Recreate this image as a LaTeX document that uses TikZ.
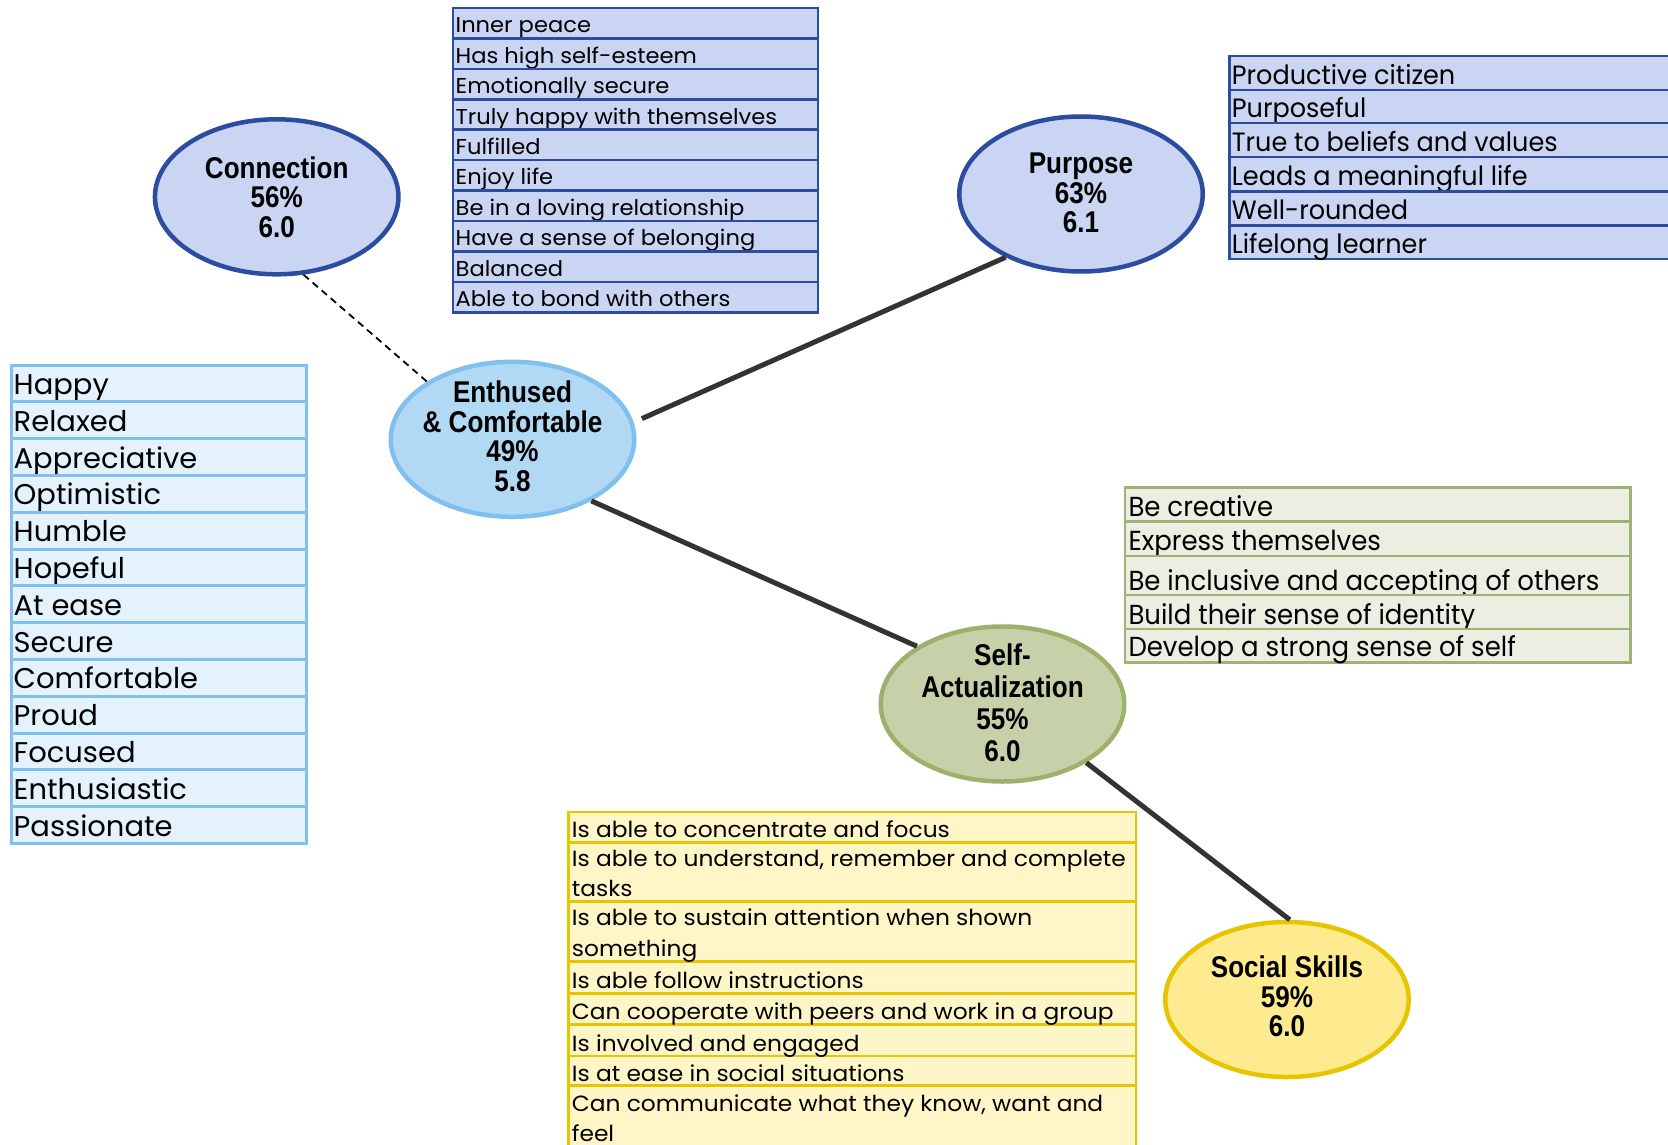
\documentclass[tikz,border=0pt]{standalone}
\usepackage{fontspec}
\usepackage{graphicx}
\usetikzlibrary{shapes.geometric}
\setmainfont{Poppins}
\newfontfamily\labfont[FakeStretch=0.87]{Liberation Sans}
\definecolor{dkblue}{HTML}{2C4CA0}
\definecolor{lavfill}{HTML}{CAD5F3}
\definecolor{ltblue}{HTML}{80C0EE}
\definecolor{ltbluefill}{HTML}{E3F2FC}
\definecolor{enthfill}{HTML}{B1D9F3}
\definecolor{olivedge}{HTML}{9FB275}
\definecolor{olivefill}{HTML}{ECEEE2}
\definecolor{safill}{HTML}{C7D1A9}
\definecolor{saedge}{HTML}{9DB16C}
\definecolor{goldedge}{HTML}{E8C400}
\definecolor{yelfill}{HTML}{FFF6C8}
\definecolor{socfill}{HTML}{FFEB8F}
\definecolor{linkcol}{HTML}{333333}
\newlength\calw
\newcommand\calib[3]{\settowidth\calw{#2}\pgfmathsetmacro#1{#3/\calw}}
\newcommand\myfL{\fontsize{28.5}{30}\selectfont}
\newcommand\myfA{\fontsize{21.5}{24}\selectfont}
\newcommand\myfB{\fontsize{26.5}{28}\selectfont}
\newcommand\myfC{\fontsize{27.5}{29}\selectfont}
\newcommand\myfD{\fontsize{22}{26}\selectfont}
\tikzset{
  bubble/.style={ellipse, minimum width=243.5pt, minimum height=155pt, inner sep=0pt, line width=4.5pt},
  lab/.style={align=center, inner sep=0pt, font={\labfont\bfseries\fontsize{30}{29.5}\selectfont}},
  rowtxt/.style={anchor=base west, inner sep=0pt, text=black},
  lrow/.style={fill=ltbluefill, draw=ltblue, line width=3pt},
  arow/.style={fill=lavfill, draw=dkblue, line width=2.6pt},
  crow/.style={fill=olivefill, draw=olivedge, line width=2.8pt},
  drow/.style={fill=yelfill, draw=goldedge, line width=2.8pt},
  link/.style={draw=linkcol, line width=5pt},
  dashlink/.style={draw=black, line width=1.8pt, dash pattern=on 7pt off 5pt},
}
\begin{document}
\calib{\sxL}{\myfL Appreciative}{183.7}%
\calib{\sxA}{\myfA Truly happy with themselves}{321.4}%
\calib{\sxB}{\myfB True to beliefs and values}{325.8}%
\calib{\sxC}{\myfC Be inclusive and accepting of others}{471}%
\calib{\sxD}{\myfD Is able to understand, remember and complete}{554}%
\begin{tikzpicture}[x=1pt,y=-1pt]
\useasboundingbox (0,0) rectangle (1668,1145);
\fill[white] (0,0) rectangle (1668,1145);
\begin{scope}
\clip (0,0) rectangle (1668,1145);
% ---- left list ----
\foreach \t [count=\i from 0] in {Happy,Relaxed,Appreciative,Optimistic,Humble,Hopeful,At ease,Secure,Comfortable,Proud,Focused,Enthusiastic,Passionate}{
  \pgfmathsetmacro\ry{365+36.8*\i}
  \draw[lrow] (11.7,\ry) rectangle (306,\ry+36.8);
  \node[rowtxt, font=\myfL] (L\i) at (13.5,\ry+29.4) {\scalebox{\sxL}[1]{\t}};
}
% ---- top list ----
\foreach \t [count=\i from 0] in {Inner peace,Has high self-esteem,Emotionally secure,Truly happy with themselves,Fulfilled,Enjoy life,Be in a loving relationship,Have a sense of belonging,Balanced,Able to bond with others}{
  \pgfmathsetmacro\ry{8+30.43*\i}
  \draw[arow] (453,\ry) rectangle (818,\ry+30.43);
  \node[rowtxt, font=\myfA] (A\i) at (455.5,\ry+24.8) {\scalebox{\sxA}[1]{\t}};
}
% ---- purpose list ----
\foreach \a/\b/\t [count=\i] in {56/90/Productive citizen,90/123/Purposeful,123/157/True to beliefs and values,157/191.5/Leads a meaningful life,191.5/225.5/Well-rounded,225.5/259/Lifelong learner}{
  \draw[arow] (1229.3,\a) rectangle (1675,\b);
  \node[rowtxt, font=\myfB] (B\i) at (1231.7,\b-5.7) {\scalebox{\sxB}[1]{\t}};
}
% ---- self-actualization list ----
\foreach \a/\b/\c/\t [count=\i] in {487.3/521.7/516/Be creative,521.7/556/550/Express themselves,556/595/590/Be inclusive and accepting of others,595/629/624/Build their sense of identity,629/662.7/656.7/Develop a strong sense of self}{
  \draw[crow] (1125,\a) rectangle (1630.4,\b);
  \node[rowtxt, font=\myfC] (C\i) at (1128.3,\c) {\scalebox{\sxC}[1]{\t}};
}
% ---- social skills list ----
\foreach \a/\b in {812/842.7,842.7/901.7,901.7/961.3,961.3/993.2,993.2/1024.1,1024.1/1055.9,1055.9/1085.5,1085.5/1152}{
  \draw[drow] (568.3,\a) rectangle (1136,\b);
}
\node[rowtxt, font=\myfD] (D1) at (571.7,837.7) {\scalebox{\sxD}[1]{Is able to concentrate and focus}};
\node[rowtxt, font=\myfD] (D2) at (571.7,866) {\scalebox{\sxD}[1]{Is able to understand, remember and complete}};
\node[rowtxt, font=\myfD] (D2b) at (571.7,896.7) {\scalebox{\sxD}[1]{tasks}};
\node[rowtxt, font=\myfD] (D3) at (571.7,925.5) {\scalebox{\sxD}[1]{Is able to sustain attention when shown}};
\node[rowtxt, font=\myfD] (D3b) at (571.7,956) {\scalebox{\sxD}[1]{something}};
\node[rowtxt, font=\myfD] (D4) at (571.7,988) {\scalebox{\sxD}[1]{Is able follow instructions}};
\node[rowtxt, font=\myfD] (D5) at (571.7,1019) {\scalebox{\sxD}[1]{Can cooperate with peers and work in a group}};
\node[rowtxt, font=\myfD] (D6) at (571.7,1051) {\scalebox{\sxD}[1]{Is involved and engaged}};
\node[rowtxt, font=\myfD] (D7) at (571.7,1081) {\scalebox{\sxD}[1]{Is at ease in social situations}};
\node[rowtxt, font=\myfD] (D8) at (571.7,1111.5) {\scalebox{\sxD}[1]{Can communicate what they know, want and}};
\node[rowtxt, font=\myfD] (D8b) at (571.7,1141.5) {\scalebox{\sxD}[1]{feel}};
% ---- bubbles ----
\node[bubble, fill=lavfill, draw=dkblue] (conn) at (276.7,196.8) {};
\node[bubble, fill=enthfill, draw=ltblue] (enth) at (512.5,439.3) {};
\node[bubble, fill=lavfill, draw=dkblue] (purp) at (1081,194) {};
\node[bubble, fill=safill, draw=saedge] (sa) at (1002.5,704) {};
\node[bubble, fill=socfill, draw=goldedge] (soc) at (1287,999.5) {};
\node[lab] (connL) at (conn.center) {Connection\\56\%\\6.0};
\node[lab] (enthL) at ([yshift=3pt]enth.center) {Enthused\\\& Comfortable\\49\%\\5.8};
\node[lab] (purpL) at ([yshift=1pt]purp.center) {Purpose\\63\%\\6.1};
\node[lab, font={\labfont\bfseries\fontsize{30}{32}\selectfont}] (saL) at ([yshift=1pt]sa.center) {Self-\\Actualization\\55\%\\6.0};
\node[lab] (socL) at ([yshift=3pt]soc.center) {Social Skills\\59\%\\6.0};
% ---- connectors ----
\draw[dashlink] (conn.-71) -- (enth.146);
\draw[link, shorten <=9pt] (enth.8.6) -- (purp.220.4);
\draw[link] (enth.-38) -- (sa.146.8);
\draw[link] (sa.-35.2) -- (soc.88.5);
\end{scope}
\end{tikzpicture}
\end{document}
